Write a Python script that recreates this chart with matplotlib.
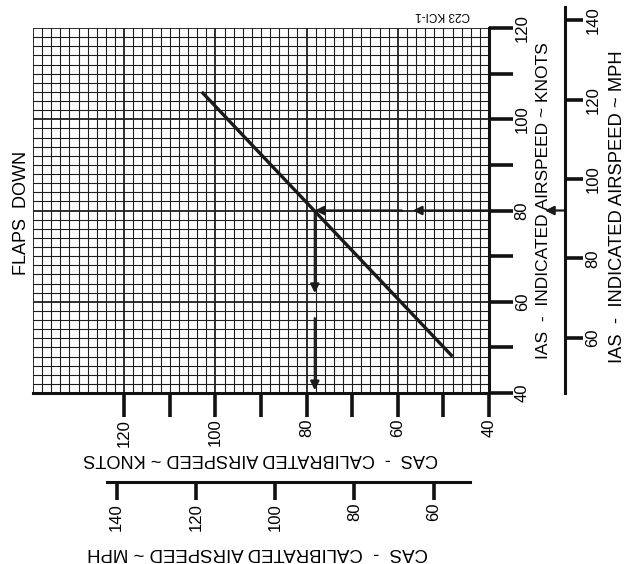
import numpy as np
import matplotlib
matplotlib.use("Agg")
import matplotlib.pyplot as plt

plt.rcParams['font.family'] = ['Liberation Sans', 'DejaVu Sans']

# ---- data ----
cas_line = [48, 103]          # CAS knots
ias_line = [48, 106]          # IAS knots
ias_read = 80                 # example reading (IAS knots)
cas_read = 78.2               # resulting CAS knots
ias_ticks = [40, 50, 60, 70, 80, 90, 100, 110, 120]
ias_labels = ['40', '', '60', '', '80', '', '100', '', '120']
cas_ticks = [40, 50, 60, 70, 80, 90, 100, 110, 120]
cas_labels = ['40', '', '60', '', '80', '', '100', '', '120']
mph_ticks = [60, 80, 100, 120, 140]
KT2MPH = 1.15078

fig = plt.figure(figsize=(6.26, 5.64), dpi=100)
W, H = 626, 564
L, R, T, B = 33, 489, 28, 393
PX_PER_KT = (B - T) / 80.0
ax = fig.add_axes([L / W, 1 - B / H, (R - L) / W, (B - T) / H])
ax.set_xlim(140, 40)
ax.set_ylim(40, 120)

# grid
for v in np.arange(40, 141, 2):
    major = (v % 20 == 0)
    ax.axvline(v, color='#1e1e1e', lw=1.3 if major else 0.8, zorder=1)
for v in np.arange(40, 121, 2):
    major = (v % 20 == 0)
    ax.axhline(v, color='#1e1e1e', lw=1.3 if major else 0.8, zorder=1)

for s in ['top', 'left']:
    ax.spines[s].set_visible(False)
for s in ['right', 'bottom']:
    ax.spines[s].set_linewidth(2.2)
    ax.spines[s].set_color('#111111')

# main line
ax.plot(cas_line, ias_line, color='#1a1a1a', lw=2.4, solid_capstyle='butt', zorder=3)

# arrows
ap = dict(arrowstyle='-|>', color='#1a1a1a', lw=1.6, mutation_scale=13, shrinkA=0, shrinkB=0)
ax.annotate('', xy=(56.7, ias_read), xytext=(40, ias_read), arrowprops=ap, zorder=4)
ax.annotate('', xy=(cas_read, ias_read), xytext=(59.1, ias_read), arrowprops=ap, zorder=4)
ax.annotate('', xy=(cas_read, 61.9), xytext=(cas_read, ias_read), arrowprops=ap, zorder=4)
ax.annotate('', xy=(cas_read, 40.6), xytext=(cas_read, 56.4), arrowprops=ap, zorder=4)

# ticks
ax.yaxis.tick_right()
ax.set_yticks(ias_ticks)
ax.set_yticklabels(ias_labels, rotation=90, va='center', fontsize=12)
ax.set_xticks(cas_ticks)
ax.set_xticklabels(cas_labels, rotation=90, ha='center', fontsize=12)
ax.tick_params(axis='both', direction='out', length=17, width=2.6, color='#111111', pad=1.5)

# right mph axis (separate, extends above the grid)
top_px = 7
ar = fig.add_axes([564 / W, 1 - B / H, 0.5 / W, (B - top_px) / H])
ar.set_ylim(40 * KT2MPH, (40 + (B - top_px) / PX_PER_KT) * KT2MPH)
ar.set_xticks([])
for s in ['top', 'bottom', 'left']:
    ar.spines[s].set_visible(False)
ar.spines['right'].set_linewidth(2.2)
ar.spines['right'].set_color('#111111')
ar.patch.set_visible(False)
ar.yaxis.tick_right()
ar.set_yticks(mph_ticks)
ar.set_yticklabels([str(m) for m in mph_ticks], rotation=90, va='center', fontsize=12)
ar.tick_params(direction='out', length=13, width=2.6, color='#111111', pad=2)

# bottom mph axis
f = (lambda k: k * KT2MPH, lambda m: m / KT2MPH)
sx = ax.secondary_xaxis(-(482 - B) / (B - T), functions=f)
sx.set_xticks(mph_ticks)
sx.set_xticklabels([str(m) for m in mph_ticks], rotation=90, ha='center', fontsize=12)
sx.tick_params(direction='out', length=13, width=2.6, color='#111111', pad=2)
sx.spines['bottom'].set_linewidth(2.2)
sx.spines['bottom'].set_color('#111111')
sx.spines['bottom'].set_bounds(44.2 * KT2MPH, 123.8 * KT2MPH)

# arrow on mph axis
ax.annotate('', xy=((545 - L) / (R - L), ias_read), xytext=((564 - L) / (R - L), ias_read),
            xycoords=('axes fraction', 'data'), textcoords=('axes fraction', 'data'),
            arrowprops=ap, annotation_clip=False)

# texts
fig.text(543 / W, 1 - 201 / H, 'IAS  -  INDICATED AIRSPEED ~ KNOTS', rotation=90,
         ha='center', va='center', fontsize=12.5)
fig.text(617 / W, 1 - 207 / H, 'IAS  -  INDICATED AIRSPEED ~ MPH', rotation=90,
         ha='center', va='center', fontsize=13.2)
fig.text(261 / W, 1 - 458 / H, 'CAS  -  CALIBRATED AIRSPEED ~ KNOTS', rotation=180,
         ha='center', va='center', fontsize=13.1)
fig.text(258 / W, 1 - 552 / H, 'CAS  -  CALIBRATED AIRSPEED ~ MPH', rotation=180,
         ha='center', va='center', fontsize=13.4)
fig.text(22 / W, 1 - 213 / H, 'FLAPS  DOWN', rotation=90,
         ha='center', va='center', fontsize=13)
fig.text(443 / W, 1 - 15 / H, 'C23 KCI-1', rotation=180,
         ha='center', va='center', fontsize=8.5)

fig.savefig('out.png', dpi=100)
